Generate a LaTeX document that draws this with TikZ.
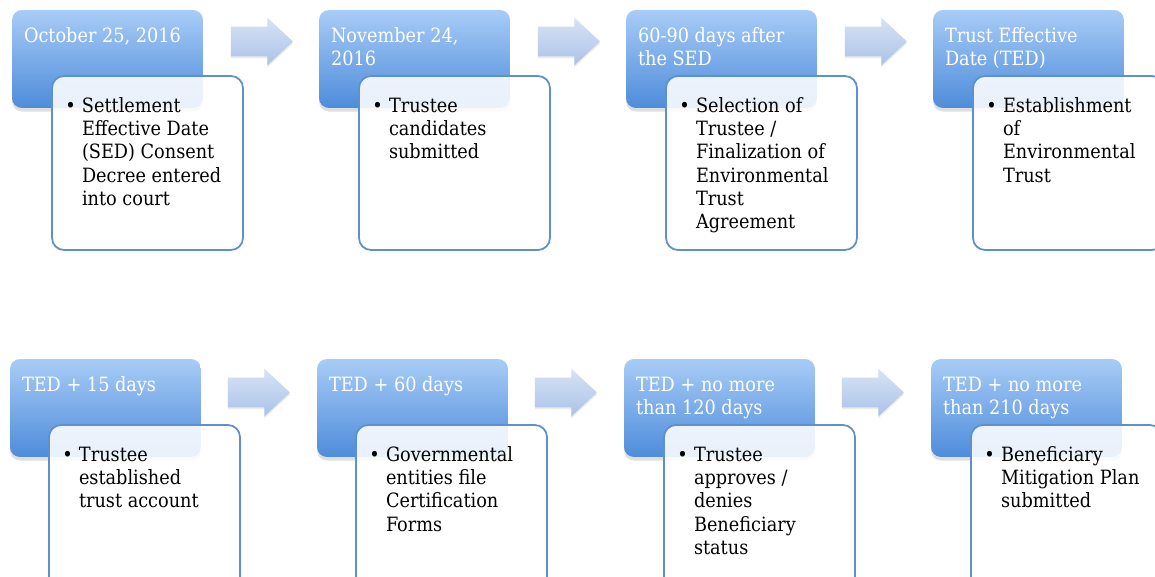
\documentclass[tikz,border=0pt]{standalone}
\usepackage{fontspec}
\setmainfont{DejaVu Serif Condensed}
\usetikzlibrary{shapes.arrows,shadows}

\definecolor{boxtop}{HTML}{A8CCF7}
\definecolor{boxbottom}{HTML}{4E8CDA}
\definecolor{boxline}{HTML}{5E91CC}
\definecolor{arrtop}{HTML}{D8E3F5}
\definecolor{arrbottom}{HTML}{AAC2E8}

% first line of a box sits on the node's base
\newcommand{\datelines}[1]{\parbox[t]{3.6cm}{\raggedright #1}}
\newcommand{\noteitem}[1]{\parbox[t]{3.4cm}{\raggedright\leavevmode\llap{\textbullet\hspace{3.5pt}}#1}}

\begin{document}
\begin{tikzpicture}[x=0.02cm, y=-0.02cm,
  every node/.style={outer sep=0pt},
  datebox/.style={anchor=north west, minimum width=3.82cm, minimum height=1.96cm, rounded corners=0.2cm,
    top color=boxtop, bottom color=boxbottom, drop shadow={opacity=0.25, shadow xshift=0pt, shadow yshift=-2pt}},
  notebox/.style={anchor=north west, minimum width=3.82cm, minimum height=3.48cm, rounded corners=0.24cm,
    draw=boxline, line width=1pt, fill=white, fill opacity=0.88},
  datetext/.style={anchor=base west, inner sep=0pt, text=white, font=\fontsize{11.2}{13.6}\selectfont},
  notetext/.style={anchor=base west, inner sep=0pt, font=\fontsize{11.2}{13.3}\selectfont},
  nextarrow/.style={single arrow, minimum height=1.24cm, inner xsep=0pt, inner ysep=0.29cm,
    single arrow head extend=0.18cm, single arrow tip angle=86, top color=arrtop, bottom color=arrbottom,
    drop shadow={opacity=0.15, shadow xshift=0pt, shadow yshift=-1.2pt}}]
\useasboundingbox (0,0) rectangle (1155,576);
\clip (0,0) rectangle (1155,576);

% first row
\node[datebox] (octdate) at (12,10) {};
\node[datetext] (octlabel) at (24,42) {\datelines{October 25, 2016}};
\node[notebox] (octnote) at (52,76) {};
\node[notetext] (octtext) at (82,112) {\noteitem{Settlement\\Effective Date\\(SED) Consent\\Decree entered\\into court}};

\node[nextarrow] (arr1) at (254,41.5) {};

\node[datebox] (novdate) at (319,10) {};
\node[datetext] (novlabel) at (331,42) {\datelines{November 24,\\2016}};
\node[notebox] (novnote) at (359,76) {};
\node[notetext] (novtext) at (389,112) {\noteitem{Trustee\\candidates\\submitted}};

\node[nextarrow] (arr2) at (561,41.5) {};

\node[datebox] (seldate) at (626,10) {};
\node[datetext] (sellabel) at (638,42) {\datelines{60-90 days after\\the SED}};
\node[notebox] (selnote) at (666,76) {};
\node[notetext] (seltext) at (696,112) {\noteitem{Selection of\\Trustee /\\Finalization of\\Environmental\\Trust\\Agreement}};

\node[nextarrow] (arr3) at (868,41.5) {};

\node[datebox] (teddate) at (933,10) {};
\node[datetext] (tedlabel) at (945,42) {\datelines{Trust Effective\\Date (TED)}};
\node[notebox] (tednote) at (973,76) {};
\node[notetext] (tedtext) at (1003,112) {\noteitem{Establishment\\of\\Environmental\\Trust}};

% second row
\node[datebox] (ted15date) at (10,359) {};
\node[datetext] (ted15label) at (22,391) {\datelines{TED + 15 days}};
\node[notebox] (ted15note) at (49,425) {};
\node[notetext] (ted15text) at (79,461) {\noteitem{Trustee\\established\\trust account}};

\node[nextarrow] (arr4) at (251,392.5) {};

\node[datebox] (ted60date) at (317,359) {};
\node[datetext] (ted60label) at (329,391) {\datelines{TED + 60 days}};
\node[notebox] (ted60note) at (356,425) {};
\node[notetext] (ted60text) at (386,461) {\noteitem{Governmental\\entities file\\Certification\\Forms}};

\node[nextarrow] (arr5) at (558,392.5) {};

\node[datebox] (ted120date) at (624,359) {};
\node[datetext] (ted120label) at (636,391) {\datelines{TED + no more\\than 120 days}};
\node[notebox] (ted120note) at (664,425) {};
\node[notetext] (ted120text) at (694,461) {\noteitem{Trustee\\approves /\\denies\\Beneficiary\\status}};

\node[nextarrow] (arr6) at (865,392.5) {};

\node[datebox] (ted210date) at (931,359) {};
\node[datetext] (ted210label) at (943,391) {\datelines{TED + no more\\than 210 days}};
\node[notebox] (ted210note) at (971,425) {};
\node[notetext] (ted210text) at (1001,461) {\noteitem{Beneficiary\\Mitigation Plan\\submitted}};
\end{tikzpicture}
\end{document}
